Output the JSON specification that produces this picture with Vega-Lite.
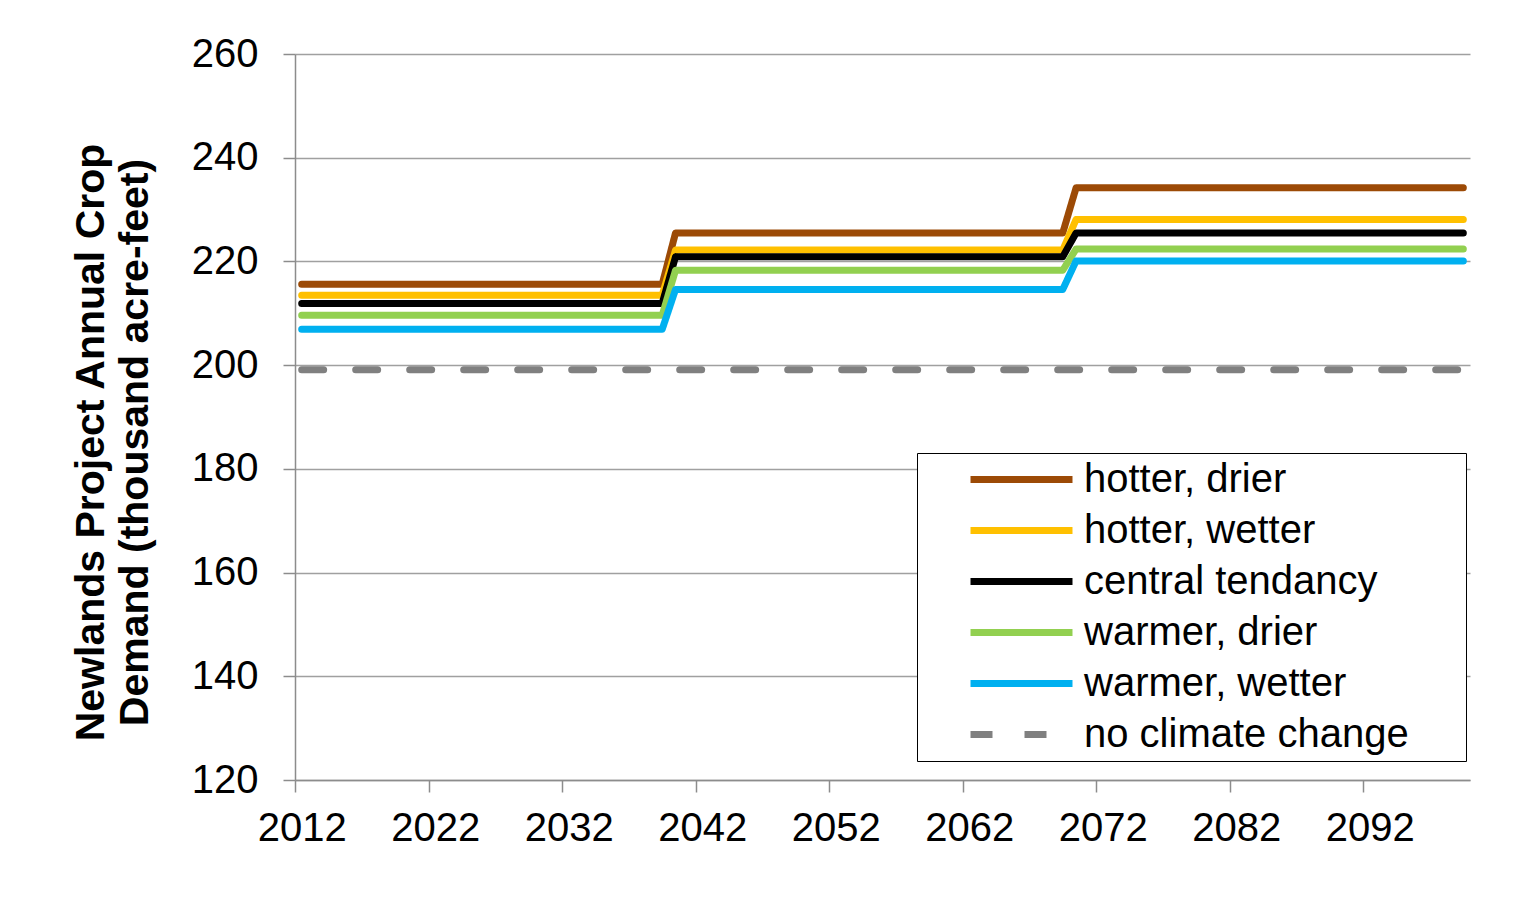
{
  "$schema": "https://vega.github.io/schema/vega-lite/v6.json",
  "width": 1175,
  "height": 726,
  "autosize": {"type": "none"},
  "padding": {"left": 295, "top": 54, "right": 56, "bottom": 137},
  "background": "white",
  "config": {"font": "Liberation Sans", "view": {"stroke": null}},
  "data": {"values": [
    {"series": "hotter, drier", "year": 2012, "value": 215.6},
    {"series": "hotter, drier", "year": 2039, "value": 215.6},
    {"series": "hotter, drier", "year": 2040, "value": 225.5},
    {"series": "hotter, drier", "year": 2069, "value": 225.5},
    {"series": "hotter, drier", "year": 2070, "value": 234.2},
    {"series": "hotter, drier", "year": 2099, "value": 234.2},
    {"series": "hotter, wetter", "year": 2012, "value": 213.5},
    {"series": "hotter, wetter", "year": 2039, "value": 213.5},
    {"series": "hotter, wetter", "year": 2040, "value": 222.2},
    {"series": "hotter, wetter", "year": 2069, "value": 222.2},
    {"series": "hotter, wetter", "year": 2070, "value": 228.1},
    {"series": "hotter, wetter", "year": 2099, "value": 228.1},
    {"series": "central tendancy", "year": 2012, "value": 211.9},
    {"series": "central tendancy", "year": 2039, "value": 211.9},
    {"series": "central tendancy", "year": 2040, "value": 220.9},
    {"series": "central tendancy", "year": 2069, "value": 220.9},
    {"series": "central tendancy", "year": 2070, "value": 225.5},
    {"series": "central tendancy", "year": 2099, "value": 225.5},
    {"series": "warmer, drier", "year": 2012, "value": 209.6},
    {"series": "warmer, drier", "year": 2039, "value": 209.6},
    {"series": "warmer, drier", "year": 2040, "value": 218.3},
    {"series": "warmer, drier", "year": 2069, "value": 218.3},
    {"series": "warmer, drier", "year": 2070, "value": 222.4},
    {"series": "warmer, drier", "year": 2099, "value": 222.4},
    {"series": "warmer, wetter", "year": 2012, "value": 206.9},
    {"series": "warmer, wetter", "year": 2039, "value": 206.9},
    {"series": "warmer, wetter", "year": 2040, "value": 214.6},
    {"series": "warmer, wetter", "year": 2069, "value": 214.6},
    {"series": "warmer, wetter", "year": 2070, "value": 220.1},
    {"series": "warmer, wetter", "year": 2099, "value": 220.1},
    {"series": "no climate change", "year": 2012, "value": 199.1},
    {"series": "no climate change", "year": 2099, "value": 199.1}
  ]},
  "mark": {"type": "line", "strokeWidth": 7, "strokeCap": "round", "strokeJoin": "round", "clip": false},
  "encoding": {
    "x": {
      "field": "year", "type": "quantitative",
      "scale": {"domain": [2011.5, 2099.5], "nice": false, "zero": false},
      "axis": {
        "values": [2012, 2022, 2032, 2042, 2052, 2062, 2072, 2082, 2092],
        "format": "d", "title": null, "grid": false,
        "tickOffset": -6.68, "labelOffset": 6.68,
        "tickSize": 12, "tickColor": "#8c8c8c", "tickWidth": 1.5,
        "domainColor": "#8c8c8c", "domainWidth": 1.5,
        "labelFontSize": 40, "labelColor": "#000000", "labelPadding": 16
      }
    },
    "y": {
      "field": "value", "type": "quantitative",
      "scale": {"domain": [120, 260], "nice": false, "zero": false},
      "axis": {
        "values": [120, 140, 160, 180, 200, 220, 240, 260],
        "grid": true, "gridColor": "#a0a0a0", "gridWidth": 1.3,
        "tickSize": 12, "tickColor": "#8c8c8c", "tickWidth": 1.5,
        "domainColor": "#8c8c8c", "domainWidth": 1.5,
        "labelFontSize": 40, "labelColor": "#000000", "labelPadding": 25,
        "title": ["Newlands  Project Annual Crop", "Demand (thousand acre-feet)"],
        "titleFontSize": 41, "titleFontWeight": "bold", "titleColor": "#000000",
        "titleLineHeight": 44, "titleAngle": -90,
        "titleX": -204, "titleY": 388, "titleAlign": "center", "titleBaseline": "middle"
      }
    },
    "color": {
      "field": "series", "type": "nominal",
      "scale": {
        "domain": ["hotter, drier", "hotter, wetter", "central tendancy", "warmer, drier", "warmer, wetter", "no climate change"],
        "range": ["#9c4a06", "#ffc000", "#000000", "#92d050", "#00b0f0", "#808080"]
      },
      "legend": {
        "title": null, "orient": "none", "legendX": 622, "legendY": 399,
        "symbolType": "stroke", "symbolSize": 10404, "symbolStrokeWidth": 7,
        "clipHeight": 51, "rowPadding": 0, "padding": 1,
        "symbolOffset": 49, "labelOffset": 8,
        "labelFontSize": 40, "labelColor": "#000000", "labelLimit": 700,
        "labelExpr": "datum.label + '\u00a0\u00a0\u00a0\u00a0\u00a0\u200b'",
        "strokeColor": "#000000", "fillColor": "#ffffff"
      }
    },
    "strokeDash": {
      "field": "series", "type": "nominal",
      "scale": {
        "domain": ["hotter, drier", "hotter, wetter", "central tendancy", "warmer, drier", "warmer, wetter", "no climate change"],
        "range": [[1, 0], [1, 0], [1, 0], [1, 0], [1, 0], [22, 32]]
      },
      "legend": {
        "title": null, "orient": "none", "legendX": 622, "legendY": 399,
        "symbolType": "stroke", "symbolSize": 10404, "symbolStrokeWidth": 7,
        "clipHeight": 51, "rowPadding": 0, "padding": 1,
        "symbolOffset": 49, "labelOffset": 8,
        "labelFontSize": 40, "labelColor": "#000000", "labelLimit": 700,
        "labelExpr": "datum.label + '\u00a0\u00a0\u00a0\u00a0\u00a0\u200b'",
        "strokeColor": "#000000", "fillColor": "#ffffff"
      }
    }
  }
}
